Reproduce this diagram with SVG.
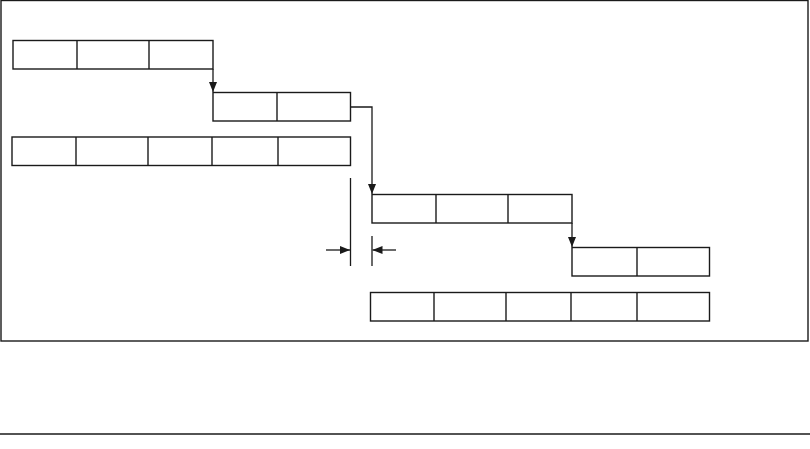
<svg xmlns="http://www.w3.org/2000/svg" width="810" height="449" viewBox="0 0 810 449">
<style>
.b{fill:none;stroke:#1a1a1a;stroke-width:1.4}
.c{fill:none;stroke:#1a1a1a;stroke-width:1.3}
</style>
<defs>
<marker id="ah" viewBox="0 0 10 8" refX="10" refY="4" markerWidth="10" markerHeight="8" markerUnits="userSpaceOnUse" orient="auto">
<path d="M0,0 L10,4 L0,8 Z" fill="#1a1a1a"/>
</marker>
</defs>
<rect class="b" x="1" y="0.5" width="807" height="340.5"/>
<line class="b" x1="0" y1="434" x2="810" y2="434"/>
<g id="row1">
<rect class="b" x="13" y="40.5" width="200" height="28.5"/>
<line class="b" x1="77" y1="40.5" x2="77" y2="69"/>
<line class="b" x1="149" y1="40.5" x2="149" y2="69"/>
</g>
<g id="row2">
<rect class="b" x="213" y="92.5" width="137.5" height="28.5"/>
<line class="b" x1="277" y1="92.5" x2="277" y2="121"/>
</g>
<g id="row3">
<rect class="b" x="12" y="137" width="338.5" height="28.5"/>
<line class="b" x1="76" y1="137" x2="76" y2="165.5"/>
<line class="b" x1="148" y1="137" x2="148" y2="165.5"/>
<line class="b" x1="212" y1="137" x2="212" y2="165.5"/>
<line class="b" x1="278" y1="137" x2="278" y2="165.5"/>
</g>
<g id="row4">
<rect class="b" x="372" y="194.5" width="200" height="28.5"/>
<line class="b" x1="436" y1="194.5" x2="436" y2="223"/>
<line class="b" x1="508" y1="194.5" x2="508" y2="223"/>
</g>
<g id="row5">
<rect class="b" x="572" y="247.5" width="137.5" height="28.5"/>
<line class="b" x1="637" y1="247.5" x2="637" y2="276"/>
</g>
<g id="row6">
<rect class="b" x="370.5" y="292.5" width="339" height="28.5"/>
<line class="b" x1="434" y1="292.5" x2="434" y2="321"/>
<line class="b" x1="506" y1="292.5" x2="506" y2="321"/>
<line class="b" x1="571" y1="292.5" x2="571" y2="321"/>
<line class="b" x1="637" y1="292.5" x2="637" y2="321"/>
</g>
<g id="connectors">
<path class="c" d="M213,69 V92" marker-end="url(#ah)"/>
<path class="c" d="M350.5,107 H372 V194" marker-end="url(#ah)"/>
<path class="c" d="M572,223 V247" marker-end="url(#ah)"/>
<line class="c" x1="350.5" y1="178" x2="350.5" y2="266"/>
<line class="c" x1="372" y1="236" x2="372" y2="266"/>
<path class="c" d="M326,250 H350" marker-end="url(#ah)"/>
<path class="c" d="M396,250 H372.5" marker-end="url(#ah)"/>
</g>
</svg>
